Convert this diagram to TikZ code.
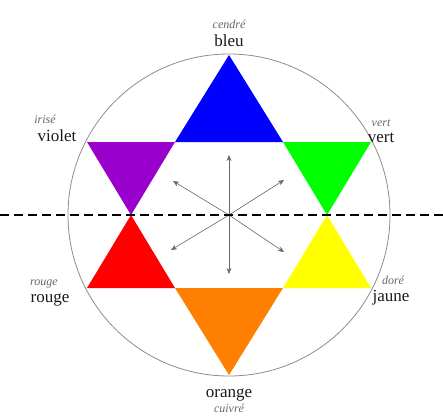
\documentclass[tikz,border=0pt]{standalone}
\usepackage{fontspec}
\setmainfont{Liberation Serif}
\usepackage{xcolor}
\usetikzlibrary{positioning,arrows.meta,calc}
\definecolor{cblue}{RGB}{0,0,255}
\definecolor{cviolet}{RGB}{153,0,204}
\definecolor{cgreen}{RGB}{0,255,0}
\definecolor{cred}{RGB}{255,0,0}
\definecolor{cyellow}{RGB}{255,255,0}
\definecolor{corange}{RGB}{255,128,0}
\tikzset{
  colname/.style  = {font=\fontsize{17}{18}\selectfont, inner sep=0pt, text=black!90},
  colalias/.style = {font=\fontsize{12}{13}\selectfont\itshape, inner sep=0pt, text=black!60},
  ray/.style      = {-{Stealth[length=6pt,width=5pt]}, draw=black!60, line width=0.6pt},
  axis/.style     = {draw=black, line width=2.4pt, dash pattern=on 9pt off 5pt},
}
\begin{document}
\begin{tikzpicture}[x=1pt,y=-1pt]
  \useasboundingbox (0,0) rectangle (443,418);
  \coordinate (c) at (229,215);
  % star points
  \coordinate (top) at ($(c)+(0,-160)$);
  \coordinate (ul)  at ($(c)+(-142,-73)$);
  \coordinate (ur)  at ($(c)+(142,-73)$);
  \coordinate (ll)  at ($(c)+(-142,73)$);
  \coordinate (lr)  at ($(c)+(142,73)$);
  \coordinate (bot) at ($(c)+(0,160)$);
  \coordinate (i1) at ($(c)+(-54,-73)$);
  \coordinate (i2) at ($(c)+(54,-73)$);
  \coordinate (i3) at ($(c)+(-98,0)$);
  \coordinate (i4) at ($(c)+(98,0)$);
  \coordinate (i5) at ($(c)+(-54,73)$);
  \coordinate (i6) at ($(c)+(54,73)$);
  \draw[black!45, line width=0.8pt] (c) circle[radius=161];
  \fill[cblue]   (top) -- (i1) -- (i2) -- cycle;
  \fill[cviolet] (ul) -- (i1) -- (i3) -- cycle;
  \fill[cgreen]  (ur) -- (i2) -- (i4) -- cycle;
  \fill[cred]    (ll) -- (i5) -- (i3) -- cycle;
  \fill[cyellow] (lr) -- (i6) -- (i4) -- cycle;
  \fill[corange] (bot) -- (i5) -- (i6) -- cycle;
  % arrows
  \foreach \d/\v in {a1/{0,-60}, a2/{0,59}, a3/{-56,-34}, a4/{55,-35}, a5/{-58,35}, a6/{55,37}}
    \coordinate (\d) at ($(c)+(\v)$);
  \foreach \d in {a1,a2,a3,a4,a5,a6}
    \draw[ray] (c) -- (\d);
  \coordinate (dl) at (0,215);
  \coordinate (dr) at (443,215);
  \draw[axis] (dl) -- (dr);
  % labels
  \node[colname] (bleu) at (229,41) {bleu};
  \node[colalias, above=6pt of bleu] (cendre) {cendré};
  \node[colname] (violet) at (57,136) {violet};
  \node[colalias, above=6pt of violet, xshift=-12pt] (irise) {irisé};
  \node[colname] (vert) at (381,138) {vert};
  \node[colalias, above=6pt of vert] (vert2) {vert};
  \node[colname] (rouge) at (50,300) {rouge};
  \node[colalias, above=5pt of rouge, xshift=-6pt] (rouge2) {rouge};
  \node[colname] (jaune) at (391,298) {jaune};
  \node[colalias, above=6pt of jaune, xshift=2pt] (dore) {doré};
  \node[colname] (orange) at (229,395) {orange};
  \node[colalias, below=3pt of orange] (cuivre) {cuivré};
\end{tikzpicture}
\end{document}
